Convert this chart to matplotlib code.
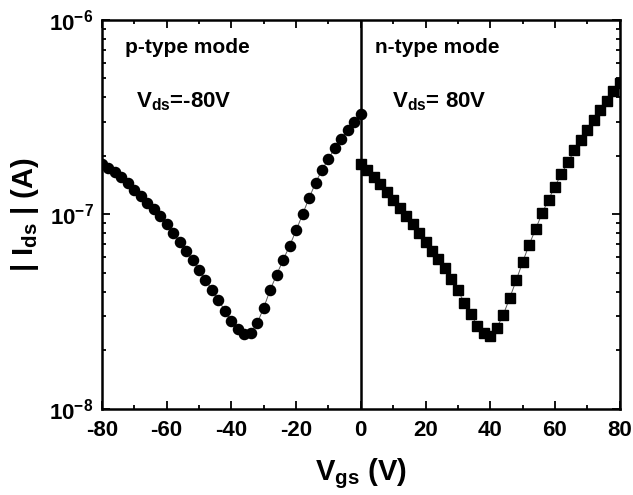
import matplotlib
matplotlib.use('Agg')
import matplotlib.pyplot as plt
import numpy as np
from matplotlib.ticker import FixedLocator, LogLocator, NullFormatter, FuncFormatter

plt.rcParams['font.family'] = ['Liberation Sans', 'DejaVu Sans']
plt.rcParams['font.weight'] = 'bold'
plt.rcParams['axes.labelweight'] = 'bold'
plt.rcParams['mathtext.fontset'] = 'custom'
plt.rcParams['mathtext.rm'] = 'Liberation Sans:bold'
plt.rcParams['mathtext.bf'] = 'Liberation Sans:bold'
plt.rcParams['mathtext.it'] = 'Liberation Sans:bold'

# gate sweeps, 2 V steps
vgs_p = np.arange(-80, 1, 2)
ids_p = [1.82e-7, 1.73e-7, 1.65e-7, 1.56e-7, 1.45e-7, 1.34e-7, 1.24e-7, 1.15e-7,
         1.06e-7, 9.75e-8, 8.91e-8, 8.00e-8, 7.22e-8, 6.51e-8, 5.83e-8, 5.19e-8,
         4.61e-8, 4.09e-8, 3.63e-8, 3.19e-8, 2.83e-8, 2.57e-8, 2.43e-8, 2.45e-8,
         2.76e-8, 3.31e-8, 4.09e-8, 4.90e-8, 5.83e-8, 6.89e-8, 8.26e-8, 1.00e-7,
         1.21e-7, 1.45e-7, 1.69e-7, 1.93e-7, 2.19e-7, 2.45e-7, 2.72e-7, 2.98e-7,
         3.29e-7]

vgs_n = np.arange(0, 81, 2)
ids_n = [1.82e-7, 1.69e-7, 1.55e-7, 1.43e-7, 1.30e-7, 1.19e-7, 1.08e-7, 9.86e-8,
         8.94e-8, 8.06e-8, 7.25e-8, 6.51e-8, 5.88e-8, 5.29e-8, 4.65e-8, 4.06e-8,
         3.52e-8, 3.07e-8, 2.67e-8, 2.45e-8, 2.37e-8, 2.60e-8, 3.04e-8, 3.71e-8,
         4.57e-8, 5.68e-8, 6.97e-8, 8.39e-8, 1.01e-7, 1.19e-7, 1.39e-7, 1.62e-7,
         1.85e-7, 2.13e-7, 2.42e-7, 2.72e-7, 3.06e-7, 3.44e-7, 3.83e-7, 4.28e-7,
         4.73e-7]

xticks = [-80, -60, -40, -20, 0, 20, 40, 60, 80]

fig = plt.figure(figsize=(6.33, 4.95), dpi=100)
ax = fig.add_axes([0.161, 0.174, 0.818, 0.786])

ax.plot(vgs_p, ids_p, '-', color='0.35', lw=0.7, zorder=2)
ax.plot(vgs_p, ids_p, 'o', color='black', ms=7.3, zorder=3)
ax.plot(vgs_n, ids_n, '-', color='0.35', lw=0.7, zorder=2)
ax.plot(vgs_n, ids_n, 's', color='black', ms=6.5, zorder=3)

ax.axvline(0, color='black', lw=1.8, zorder=1)

ax.set_yscale('log')
ax.set_xlim(-80, 80)
ax.set_ylim(1e-8, 1e-6)

ax.xaxis.set_major_locator(FixedLocator(xticks))
ax.xaxis.set_minor_locator(FixedLocator(np.arange(-70, 80, 20)))
ax.set_xticklabels([str(t) for t in xticks])
ax.yaxis.set_major_locator(FixedLocator([1e-8, 1e-7, 1e-6]))
ax.yaxis.set_minor_locator(LogLocator(base=10, subs=np.arange(2, 10)))
ax.yaxis.set_minor_formatter(NullFormatter())
ax.yaxis.set_major_formatter(FuncFormatter(
    lambda v, p: r'$\mathbf{10^{%d}}$' % int(round(np.log10(v)))))

ax.tick_params(which='both', direction='in', top=True, right=True, width=1.3)
ax.tick_params(which='major', length=6)
ax.tick_params(axis='x', which='major', labelsize=16, pad=8)
ax.tick_params(axis='y', which='major', labelsize=16, pad=6)
ax.tick_params(which='minor', length=3)
for s in ax.spines.values():
    s.set_linewidth(1.8)

ax.set_xlabel(r'V$_{\mathbf{gs}}$ (V)', fontsize=21, labelpad=11)
ax.set_ylabel(r'| I$_{\mathbf{ds}}$ | (A)', fontsize=21, labelpad=6)

ax.text(0.045, 0.93, 'p-type mode', transform=ax.transAxes, fontsize=15,
        ha='left', va='center')
ax.text(0.065, 0.79, r'V$_{\mathbf{ds}}$=-80V', transform=ax.transAxes,
        fontsize=16, ha='left', va='center')
ax.text(0.527, 0.93, 'n-type mode', transform=ax.transAxes, fontsize=15,
        ha='left', va='center')
ax.text(0.56, 0.79, r'V$_{\mathbf{ds}}$= 80V', transform=ax.transAxes,
        fontsize=16, ha='left', va='center')

fig.savefig('out.png', dpi=100)
